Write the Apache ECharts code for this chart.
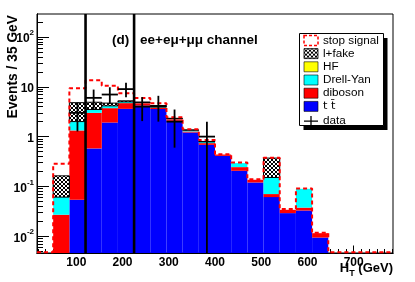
<!DOCTYPE html>
<html><head><meta charset="utf-8">
<script src="https://cdn.jsdelivr.net/npm/echarts@6/dist/echarts.min.js"></script>
<style>html,body{margin:0;padding:0;background:#fff}#c{width:415px;height:282px}</style>
</head><body><div id="c"></div>
<script>
// ---- data ----
const binLowEdges = [15,50,85,120,155,190,225,260,295,330,365,400,435,470,505,540,575,610,645,680,715,750];
const binWidth = 35;
const ttbar   = [0,0.002,0.054,0.58,1.92,3.61,4.21,3.57,2.08,1.21,0.684,0.411,0.206,0.120,0.061,0.0291,0.0328,0.0094,0,0,0,0];
const diboson = [0,0.025,1.28,2.42,1.81,1.10,0.49,0.27,0.16,0.06,0.056,0.026,0.038,0.016,0.0092,0.0048,0.0047,0.0021,0,0,0,0];
const drellYan= [0,0.034,0.67,0.50,0.42,0.28,0.15,0.19,0.07,0.08,0.046,0,0.05,0,0.081,0,0.052,0,0,0,0,0];
const hf      = [0,0,0,0,0,0,0,0,0,0,0,0,0,0,0,0,0,0,0,0,0,0];
const lFake   = [0,0.102,2.8,1.4,0.56,0.24,0.10,0.18,0.02,0.01,0.014,0,0,0,0.219,0,0,0,0,0,0,0];
const stopSignal = [0,0.121,4.6,8.6,5.8,2.24,0.98,0.49,0.13,0.05,0.06,0.008,0.008,0.004,0.005,0.0011,0.0015,0.0002,0,0,0,0];
const dataCounts  = [0,0,3,6,7,9,4,4,2,0,1,0,0,0,0,0,0,0,0,0,0,0];
const dataErrLow  = [0,0,1.27,3.6,4.5,6.2,2.05,2.0,0.6,0,0,0,0,0,0,0,0,0,0,0,0,0];
const dataErrHigh = [0,0,4.8,8.8,9.8,12.1,6.2,6.6,3.5,0,2.0,0,0,0,0,0,0,0,0,0,0,0];
const cutValues = [120, 225];
const xTickLabels = [100,200,300,400,500,600,700];
const yTickLabels = [0.01,0.1,1,10,100];
const X_MIN = 15, X_MAX = 785, Y_MIN = 0.0046, Y_MAX = 290;

// ---- helpers ----
const FONT = 'Liberation Sans, Arial, Helvetica, sans-serif';
const pc = document.createElement('canvas'); pc.width = 4; pc.height = 4;
const pctx = pc.getContext('2d');
pctx.fillStyle = '#fff'; pctx.fillRect(0,0,4,4); pctx.fillStyle = '#000';
[[0,0],[1,1],[2,2],[3,3],[3,0],[2,1],[1,2],[0,3]].forEach(p => pctx.fillRect(p[0],p[1],1,1));
const hatch = {image: pc, repeat: 'repeat'};

const TT = 't t\u0304';
const comps = [
  {name: TT, vals: ttbar, fill: '#0000ff'},
  {name: 'diboson', vals: diboson, fill: '#ff0000'},
  {name: 'Drell-Yan', vals: drellYan, fill: '#00ffff'},
  {name: 'HF', vals: hf, fill: '#ffff00'},
  {name: 'l+fake', vals: lFake, fill: hatch, stroke: '#000'}
];
const cum = binLowEdges.map(() => 0);
const stackSeries = comps.map(c => {
  const d = [];
  binLowEdges.forEach((x0, i) => {
    const lo = cum[i], hi = cum[i] + c.vals[i];
    cum[i] = hi;
    if (c.vals[i] > 0 && hi > Y_MIN) d.push([x0, x0 + binWidth, Math.max(lo, Y_MIN), hi]);
  });
  return {
    type: 'custom', name: c.name, clip: true, z: 2,
    itemStyle: {color: c.fill},
    encode: {x: [0,1], y: [2,3]},
    data: d,
    renderItem: (params, api) => {
      const p0 = api.coord([api.value(0), api.value(3)]);
      const p1 = api.coord([api.value(1), api.value(2)]);
      return {type: 'rect', shape: {x: p0[0], y: p0[1], width: p1[0]-p0[0], height: p1[1]-p0[1]},
        style: {fill: c.fill, stroke: c.stroke || null, lineWidth: c.stroke ? 1 : 0}};
    }
  };
});
// total with signal on top (step outline); empty bins drawn along the floor
const FLOOR = Y_MIN * 1.04;
const sigLine = [];
binLowEdges.forEach((x0, i) => {
  const tot = cum[i] + stopSignal[i];
  const v = tot > FLOOR ? tot : FLOOR;
  sigLine.push([x0, v], [x0 + binWidth, v]);
});
const dataPts = [];
binLowEdges.forEach((x0, i) => {
  if (dataCounts[i] > 0) dataPts.push([x0, x0 + binWidth, dataCounts[i], Math.max(dataErrLow[i], Y_MIN), dataErrHigh[i]]);
});
const minorX = []; for (let v = 0; v <= X_MAX; v += 100/6) if (v >= X_MIN) minorX.push(v);
const minorY = []; for (let e = -3; e <= 2; e++) for (let m = 2; m <= 9; m++) { const v = m * Math.pow(10, e); if (v >= Y_MIN && v <= Y_MAX) minorY.push(v); }

const chart = echarts.init(document.getElementById('c'), null, {renderer: 'canvas'});
const axisCommon = {axisLine: {onZero: false, lineStyle: {color: '#000', width: 1}}, splitLine: {show: false}};
chart.setOption({
  animation: false,
  backgroundColor: '#fff',
  grid: {left: 37, right: 22, top: 14, bottom: 29, show: true, borderColor: '#000', borderWidth: 1, containLabel: false},
  xAxis: [
    Object.assign({type: 'value', min: X_MIN, max: X_MAX, position: 'bottom',
      axisTick: {inside: true, length: 7.5, customValues: xTickLabels, lineStyle: {color: '#000'}},
      axisLabel: {customValues: xTickLabels, margin: 4, fontFamily: FONT, fontWeight: 'bold', fontSize: 12, color: '#000'}}, axisCommon),
    Object.assign({type: 'value', min: X_MIN, max: X_MAX, position: 'bottom',
      axisTick: {inside: true, length: 4, customValues: minorX, lineStyle: {color: '#000'}},
      axisLabel: {show: false}}, axisCommon)
  ],
  yAxis: [
    Object.assign({type: 'log', logBase: 10, min: Y_MIN, max: Y_MAX, position: 'left',
      axisTick: {inside: true, length: 12, customValues: yTickLabels, lineStyle: {color: '#000'}},
      axisLabel: {customValues: yTickLabels, margin: 3, fontFamily: FONT, color: '#000',
        formatter: v => { const e = Math.round(Math.log10(v)); if (e === 0) return '{b|1}'; if (e === 1) return '{b|10}'; return '{b|10}{s|' + e + '}'; },
        rich: {b: {fontFamily: FONT, fontWeight: 'bold', fontSize: 12, lineHeight: 16, verticalAlign: 'bottom', color: '#000'},
               s: {fontFamily: FONT, fontWeight: 'bold', fontSize: 8, verticalAlign: 'top', color: '#000'}}}}, axisCommon),
    Object.assign({type: 'log', logBase: 10, min: Y_MIN, max: Y_MAX, position: 'left',
      axisTick: {inside: true, length: 6, customValues: minorY, lineStyle: {color: '#000'}},
      axisLabel: {show: false}}, axisCommon)
  ],
  legend: {
    orient: 'vertical', left: 299, top: 33, padding: [1.4, 5, 0, 2.5], itemGap: 1.2, z: 20,
    itemWidth: 14, itemHeight: 10, itemTextGap: 1.5, selectedMode: false,
    backgroundColor: 'transparent', borderWidth: 0,
    textStyle: {fontFamily: FONT, fontSize: 11.7, lineHeight: 12, color: '#000',
      rich: {tt: {fontFamily: 'DejaVu Sans', fontSize: 11.3, lineHeight: 12, color: '#000'}}},
    formatter: n => n === TT ? '{tt|' + TT + '}' : n,
    data: [
      {name: 'stop signal', icon: 'rect', itemStyle: {color: '#fff', borderColor: '#ff0000', borderWidth: 1.5, borderType: [3,2]}},
      {name: 'l+fake', icon: 'rect', itemStyle: {color: hatch, borderColor: '#000', borderWidth: 0.8}},
      {name: 'HF', icon: 'rect', itemStyle: {color: '#ffff00', borderColor: '#000', borderWidth: 0.6}},
      {name: 'Drell-Yan', icon: 'rect', itemStyle: {color: '#00ffff', borderColor: '#000', borderWidth: 0.6}},
      {name: 'diboson', icon: 'rect', itemStyle: {color: '#ff0000', borderColor: '#000', borderWidth: 0.6}},
      {name: TT, icon: 'rect', itemStyle: {color: '#0000ff', borderColor: '#000', borderWidth: 0.6}},
      {name: 'data', icon: 'path://M0,5L14,5M7,0L7,10', itemStyle: {color: 'none', borderColor: '#000', borderWidth: 1.3}}
    ]
  },
  graphic: [
    {type: 'rect', z: 10, shape: {x: 303.5, y: 38, width: 84, height: 92}, style: {fill: '#000'}},
    {type: 'rect', z: 11, shape: {x: 299.5, y: 33.5, width: 84, height: 92}, style: {fill: '#fff', stroke: '#000', lineWidth: 1}},
    {type: 'text', x: 112, y: 40, style: {text: '(d)', font: 'bold 13.5px ' + FONT, fill: '#000', textVerticalAlign: 'middle'}, z: 100},
    {type: 'text', x: 140, y: 40, style: {text: 'ee+e\u03bc+\u03bc\u03bc channel', font: 'bold 13.5px ' + FONT, fill: '#000', textVerticalAlign: 'middle'}, z: 100},
    {type: 'text', x: 13, y: 15, rotation: Math.PI/2, style: {text: 'Events / 35 GeV', font: 'bold 13.8px ' + FONT, fill: '#000', textAlign: 'right', textVerticalAlign: 'middle'}, z: 100},
    {type: 'text', x: 393, y: 270, style: {text: '{h|H}{t|T}{h| (GeV)}', textAlign: 'right', textVerticalAlign: 'middle',
      rich: {h: {font: 'bold 13px ' + FONT, fill: '#000', lineHeight: 16, verticalAlign: 'top'}, t: {font: 'bold 9px ' + FONT, fill: '#000', verticalAlign: 'bottom'}}}, z: 100}
  ],
  series: stackSeries.concat([
    {type: 'line', name: 'stop signal', data: sigLine, showSymbol: false, symbol: 'none', clip: true, z: 3,
      itemStyle: {color: '#ff0000'}, lineStyle: {color: '#ff0000', width: 2, type: [4,3]}},
    {type: 'custom', name: 'data', clip: true, z: 4, itemStyle: {color: '#000'},
      encode: {x: [0,1], y: [2,3,4]}, data: dataPts,
      renderItem: (params, api) => {
        const x0 = api.value(0), x1 = api.value(1), xc = (x0 + x1) / 2;
        const a = api.coord([x0, api.value(2)]), b = api.coord([x1, api.value(2)]);
        const lo = api.coord([xc, api.value(3)]), hi = api.coord([xc, api.value(4)]);
        return {type: 'group', children: [
          {type: 'line', shape: {x1: a[0], y1: a[1], x2: b[0], y2: b[1]}, style: {stroke: '#000', lineWidth: 1.8}},
          {type: 'line', shape: {x1: lo[0], y1: lo[1], x2: hi[0], y2: hi[1]}, style: {stroke: '#000', lineWidth: 1.8}}
        ]};
      }},
    {type: 'custom', name: 'cuts', clip: true, z: 5, encode: {x: 0},
      data: cutValues.map(v => [v]),
      renderItem: (params, api) => {
        const t = api.coord([api.value(0), Y_MAX]), b = api.coord([api.value(0), Y_MIN]);
        return {type: 'line', shape: {x1: t[0], y1: t[1], x2: b[0], y2: b[1]}, style: {stroke: '#000', lineWidth: 2.6}};
      }}
  ])
});
</script></body></html>
